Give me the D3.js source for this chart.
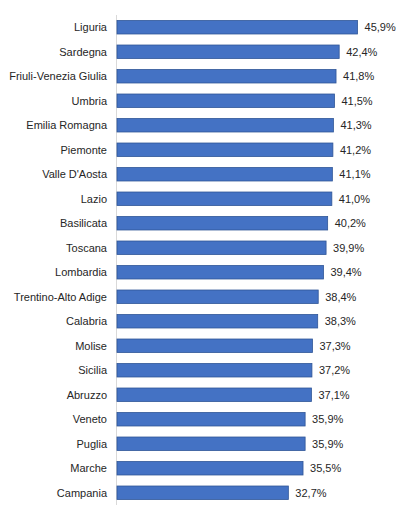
<!DOCTYPE html>
<html lang="it">
<head>
<meta charset="UTF-8">
<title>Regioni</title>
<style>
body { margin: 0; background: #fff; }
text { font-family: 'Liberation Sans', Arial, sans-serif; font-size: 11px; fill: #262626; }
.bar { fill: #4472c4; stroke: #2f5597; stroke-width: 0.8; }
</style>
</head>
<body>
<svg width="403" height="521"></svg>
<script src="https://cdn.jsdelivr.net/npm/d3@7"></script>
<script>
var regions = ["Liguria", "Sardegna", "Friuli-Venezia Giulia", "Umbria", "Emilia Romagna",
    "Piemonte", "Valle D'Aosta", "Lazio", "Basilicata", "Toscana", "Lombardia",
    "Trentino-Alto Adige", "Calabria", "Molise", "Sicilia", "Abruzzo", "Veneto",
    "Puglia", "Marche", "Campania"];
var values = [45.9, 42.4, 41.8, 41.5, 41.3, 41.2, 41.1, 41.0, 40.2, 39.9, 39.4,
    38.4, 38.3, 37.3, 37.2, 37.1, 35.9, 35.9, 35.5, 32.7];

var data = regions.map(function(r, i) { return {region: r, value: values[i]}; });

var svg = d3.select("svg");

var x = d3.scaleLinear().domain([0, 50]).range([117, 379]);
var y = d3.scaleBand().domain(regions).range([15, 505]).paddingInner(0.45).paddingOuter(0.225);

var fmt = function(v) { return d3.format(".1f")(v).replace(".", ",") + "%"; };

// axis line
svg.append("line")
    .attr("x1", 116.5).attr("x2", 116.5)
    .attr("y1", 15).attr("y2", 505)
    .attr("stroke", "#d9d9d9");

svg.selectAll(".bar")
    .data(data)
    .enter()
    .append("rect")
    .attr("class", "bar")
    .attr("x", x(0))
    .attr("y", function(d) { return y(d.region); })
    .attr("width", function(d) { return x(d.value) - x(0); })
    .attr("height", y.bandwidth());

svg.selectAll(".cat")
    .data(data)
    .enter()
    .append("text")
    .attr("class", "cat")
    .attr("x", 107)
    .attr("y", function(d) { return y(d.region) + y.bandwidth() / 2; })
    .attr("dy", "0.35em")
    .attr("text-anchor", "end")
    .text(function(d) { return d.region; });

svg.selectAll(".val")
    .data(data)
    .enter()
    .append("text")
    .attr("class", "val")
    .attr("x", function(d) { return x(d.value) + 7; })
    .attr("y", function(d) { return y(d.region) + y.bandwidth() / 2; })
    .attr("dy", "0.35em")
    .text(function(d) { return fmt(d.value); });
</script>
</body>
</html>
